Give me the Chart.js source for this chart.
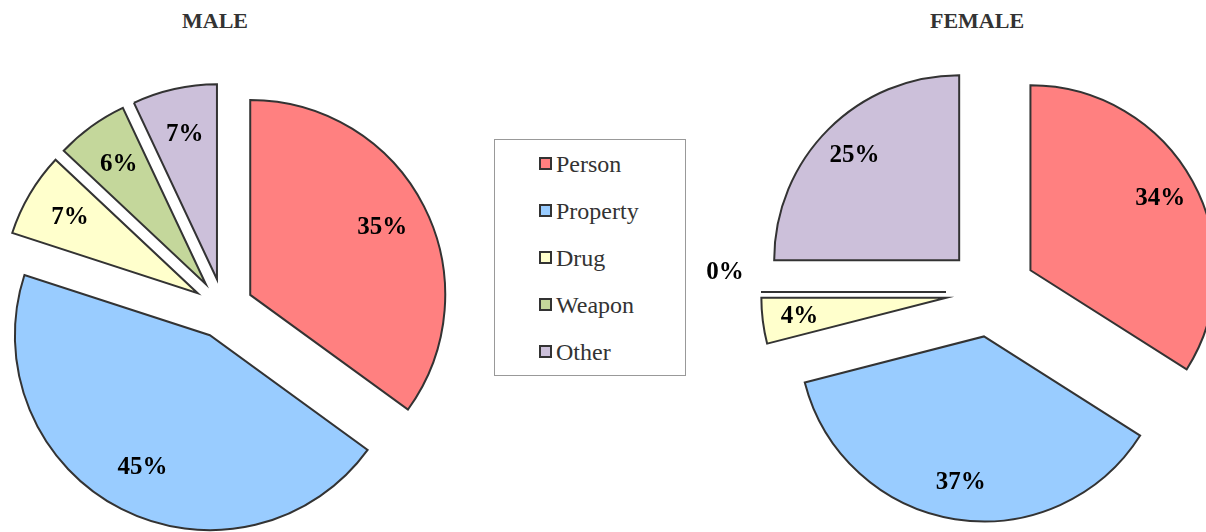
<!DOCTYPE html>
<html>
<head>
<meta charset="utf-8">
<script src="https://cdn.jsdelivr.net/npm/chart.js@4"></script>
<style>
  html, body { margin: 0; padding: 0; background: #fff; }
  body { width: 1206px; height: 532px; position: relative; overflow: hidden; font-family: "Liberation Serif", "DejaVu Serif", serif; }
  .title { position: absolute; top: 8px; font-weight: bold; font-size: 22px; color: #333; transform: translateX(-50%); white-space: nowrap; }
  .box { position: absolute; }
  #legend { position: absolute; left: 494px; top: 139px; width: 192px; height: 237px; border: 1px solid #999; box-sizing: border-box; }
  #legend .item { position: absolute; left: 44px; height: 26px; line-height: 26px; font-size: 24px; color: #333; }
  #legend .sw { display: inline-block; width: 9px; height: 9px; border: 2px solid #333; margin-right: 4px; vertical-align: 2px; }
</style>
</head>
<body>
<div class="title" style="left:215px">MALE</div>
<div class="title" style="left:977px">FEMALE</div>
<div class="box" style="left:0px; top:0px; width:447px; height:617px"><canvas id="male-chart"></canvas></div>
<div class="box" style="left:691px; top:0px; width:600px; height:584px"><canvas id="female-chart"></canvas></div>
<div id="legend"></div>
<script>
// Categories and series (percent of offences)
const categories = ['Person', 'Property', 'Drug', 'Weapon', 'Other'];
const maleValues = [35, 45, 7, 6, 7];
const femaleValues = [34, 37, 4, 0, 25];
const sliceColors = ['#FF8080', '#99CCFF', '#FFFFCC', '#C4D79B', '#CCC0DA'];

// Exploded slices: push every slice straight out by its offset, keeping the radius the same
const baseArcDraw = Chart.ArcElement.prototype.draw;
Chart.ArcElement.prototype.draw = function (ctx) {
    const opts = this.options;
    const d = opts.offset || 0;
    const half = (this.startAngle + this.endAngle) / 2;
    this.options = Object.assign({}, opts, { offset: 0 });
    ctx.save();
    ctx.translate(Math.cos(half) * d, Math.sin(half) * d);
    baseArcDraw.call(this, ctx);
    ctx.restore();
    this.options = opts;
};

// Draw zero slices as a single edge line and put the percent labels in the slices
function pieLabels(labelRadius) {
    return {
        id: 'pieLabels',
        afterDatasetsDraw(chart) {
            const ctx = chart.ctx;
            const meta = chart.getDatasetMeta(0);
            const data = chart.data.datasets[0].data;
            ctx.save();
            meta.data.forEach((arc, i) => {
                const half = (arc.startAngle + arc.endAngle) / 2;
                const t = arc.options.offset || 0;
                const cx = arc.x + Math.cos(half) * t;
                const cy = arc.y + Math.sin(half) * t;
                let k = labelRadius;
                let a = half;
                if (data[i] === 0) {
                    ctx.beginPath();
                    ctx.moveTo(cx, cy);
                    ctx.lineTo(cx + Math.cos(arc.startAngle) * arc.outerRadius, cy + Math.sin(arc.startAngle) * arc.outerRadius);
                    ctx.lineWidth = 2;
                    ctx.strokeStyle = '#333';
                    ctx.stroke();
                    k = 1.2;
                    a = half + 0.09;
                }
                const lx = cx + Math.cos(a) * arc.outerRadius * k;
                const ly = cy + Math.sin(a) * arc.outerRadius * k;
                ctx.font = 'bold 25px "Liberation Serif", serif';
                ctx.fillStyle = '#000';
                ctx.textAlign = 'center';
                ctx.textBaseline = 'middle';
                ctx.fillText(data[i] + '%', lx, ly);
            });
            ctx.restore();
        }
    };
}

function makePie(id, values, radius, explode, labelRadius) {
    const el = document.getElementById(id).getContext('2d');
    return new Chart(el, {
        type: 'pie',
        data: {
            labels: categories,
            datasets: [{
                data: values,
                backgroundColor: sliceColors,
                borderColor: '#333',
                borderWidth: 2,
                borderJoinStyle: 'miter',
                radius: radius,
                offset: explode,
                clip: false
            }]
        },
        options: {
            responsive: true,
            maintainAspectRatio: false,
            animation: false,
            layout: { padding: 0 },
            plugins: {
                legend: { display: false },
                tooltip: { enabled: false }
            }
        },
        plugins: [pieLabels(labelRadius)]
    });
}

const maleChart = makePie('male-chart', maleValues, 195, 30, 0.76);
const femaleChart = makePie('female-chart', femaleValues, 185, 45, 0.8);

// Legend between the two pies
const legend = document.getElementById('legend');
categories.forEach((name, i) => {
    const item = document.createElement('div');
    item.className = 'item';
    item.style.top = (11 + i * 47) + 'px';
    item.innerHTML = '<span class="sw" style="background:' + sliceColors[i] + '"></span>' + name;
    legend.appendChild(item);
});
</script>
</body>
</html>
